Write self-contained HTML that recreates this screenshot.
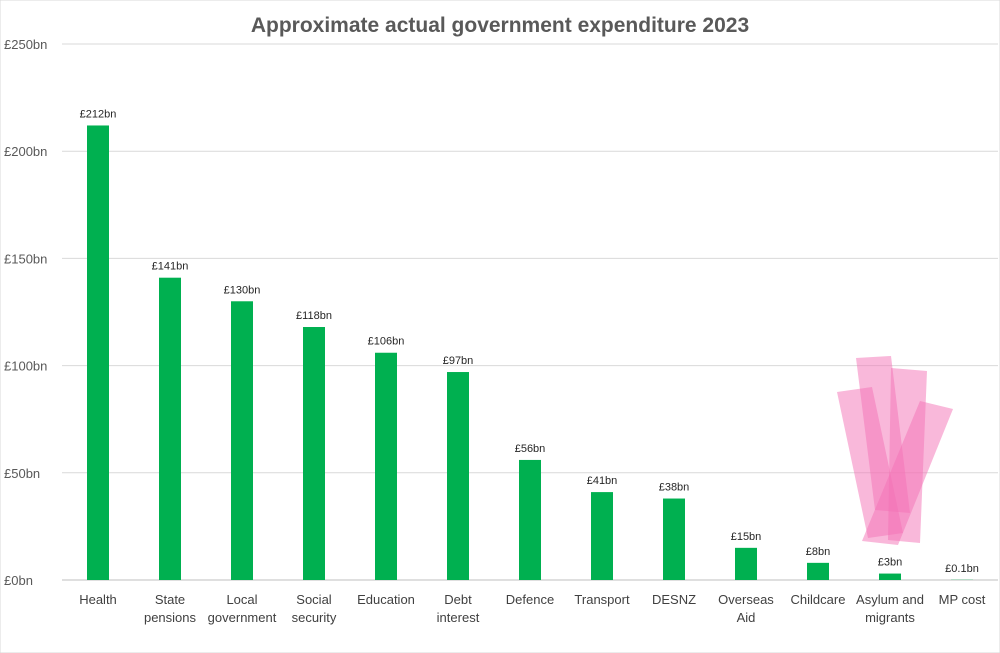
<!DOCTYPE html>
<html><head><meta charset="utf-8"><style>
body{margin:0;background:#fff;}
svg{display:block;font-family:"Liberation Sans",Arial,sans-serif;}
</style></head><body>
<svg id="chart" width="1000" height="653" viewBox="0 0 1000 653">
<rect x="0" y="0" width="1000" height="653" fill="#fff" stroke="#d9d9d9"/>
<text x="500" y="32" text-anchor="middle" font-size="21" font-weight="bold" fill="#595959">Approximate actual government expenditure 2023</text>
<g id="grid"></g>
<g id="ylabels"></g>
<g id="bars"></g>
<g id="xlabels"></g>
<g fill="#f472b6" fill-opacity="0.5">
<polygon points="837,392 872,387 903,533 868,538"/>
<polygon points="856,358 891,356 910,513 875,510"/>
<polygon points="891,368 927,371 920,543 888,540"/>
<polygon points="920,401 953,409 898,545 862,541"/>
</g>
</svg>
<script>
const categories=[["Health"],["State","pensions"],["Local","government"],["Social","security"],["Education"],["Debt","interest"],["Defence"],["Transport"],["DESNZ"],["Overseas","Aid"],["Childcare"],["Asylum and","migrants"],["MP cost"]];
const values=[212,141,130,118,106,97,56,41,38,15,8,3,0.1];
const valueLabels=["£212bn","£141bn","£130bn","£118bn","£106bn","£97bn","£56bn","£41bn","£38bn","£15bn","£8bn","£3bn","£0.1bn"];
const yTicks=[0,50,100,150,200,250];
const yTickLabels=["£0bn","£50bn","£100bn","£150bn","£200bn","£250bn"];
const NS="http://www.w3.org/2000/svg";
const y0=580,yTop=44,yMax=250,xL=62,xR=998;
function y(v){return y0-(v/yMax)*(y0-yTop);}
const step=(xR-xL)/categories.length;
function x(i){return xL+step*(i+0.5);}
function mk(tag,attrs,parent,txt){const e=document.createElementNS(NS,tag);for(const k in attrs)e.setAttribute(k,attrs[k]);if(txt!=null)e.textContent=txt;parent.appendChild(e);return e;}
const grid=document.getElementById('grid'),yl=document.getElementById('ylabels'),bars=document.getElementById('bars'),xl=document.getElementById('xlabels');
yTicks.forEach((t,i)=>{
 const l=mk('line',{x1:xL,x2:xR,y1:y(t),y2:y(t),stroke:i===0?'#bfbfbf':'#d9d9d9','stroke-width':1},grid);
 
 
 const tx=mk('text',{x:4,y:y(t)+5,'font-size':13,fill:'#595959'},yl,yTickLabels[i]);
 
 
});
values.forEach((v,i)=>{
 const w=22;
 const r=mk('rect',{x:x(i)-w/2,y:y(v),width:w,height:y0-y(v),fill:'#00b050'},bars);
 
 
 const vl=mk('text',{x:x(i),y:y(v)-8,'text-anchor':'middle','font-size':11,fill:'#262626'},bars,valueLabels[i]);
 
 
 categories[i].forEach((line,j)=>{
  const t=mk('text',{x:x(i),y:604+j*18,'text-anchor':'middle','font-size':13,fill:'#404040'},xl,line);
  
  
 });
});
</script>
</body></html>
